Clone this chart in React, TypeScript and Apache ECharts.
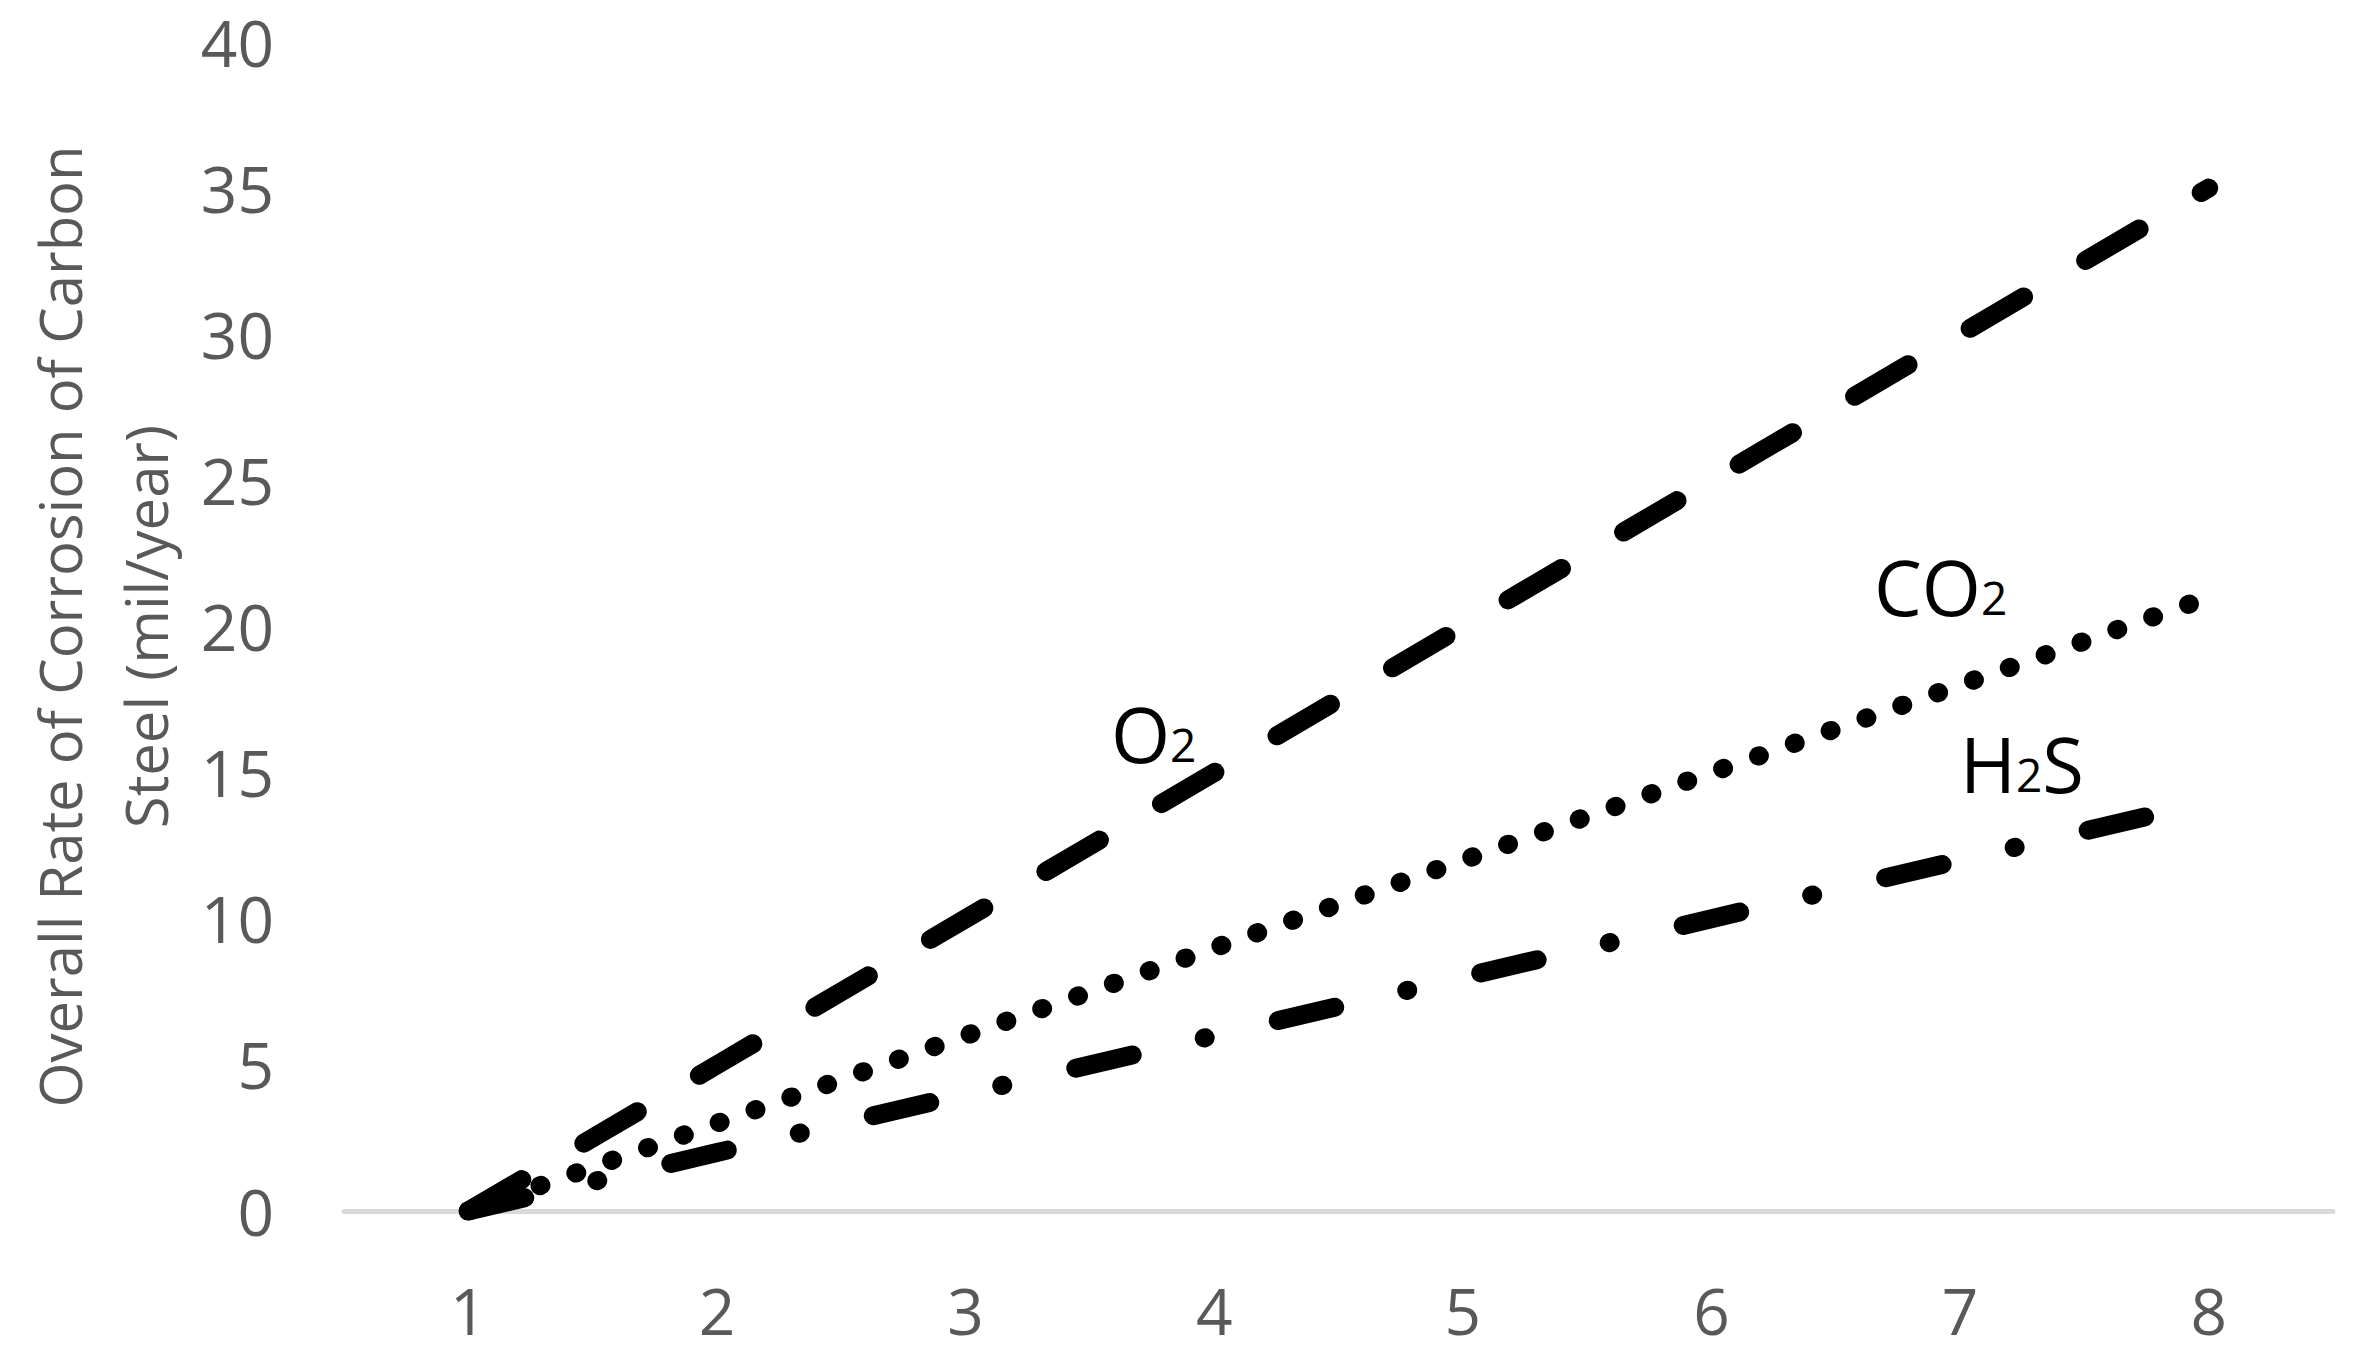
import React, { useEffect, useRef } from "react";
import * as echarts from "echarts";

const categories = ["1", "2", "3", "4", "5", "6", "7", "8"];
const o2Values = [0, 5, 10, 15, 20, 25, 30, 35];
const co2Values = [0, 3, 6, 9, 12, 15, 18, 21];
const h2sValues = [0, 2, 4, 6, 8, 10, 12, 14];
const yTicks = { min: 0, max: 40, interval: 5 };
const yTitle = "Overall Rate of Corrosion of Carbon\nSteel (mil/year)";

const FONT = "'Open Sans', 'Noto Sans', sans-serif";
const GREY = "#595959";

export default function App() {
  const ref = useRef<HTMLDivElement>(null);
  useEffect(() => {
    if (!ref.current) return;
    const chart = echarts.init(ref.current, undefined, { renderer: "svg" });
    const rich = {
      m: { fontSize: 76, fontFamily: FONT, color: "#000", lineHeight: 76, verticalAlign: "bottom" },
      s: { fontSize: 46, fontFamily: FONT, color: "#000", lineHeight: 46, verticalAlign: "bottom", padding: [0, 0, 4, 0] },
    };
    const lineBase = { color: "#000", width: 19, cap: "round", join: "round" };
    chart.setOption({
      animation: false,
      backgroundColor: "#fff",
      grid: { left: 344, right: 35, top: 42, bottom: 152 },
      xAxis: {
        type: "category",
        data: categories,
        boundaryGap: true,
        axisLine: { show: true, lineStyle: { color: "#d9d9d9", width: 5 } },
        axisTick: { show: false },
        axisLabel: { color: GREY, fontSize: 64, fontFamily: FONT, margin: 67 },
        splitLine: { show: false },
      },
      yAxis: {
        type: "value",
        min: yTicks.min,
        max: yTicks.max,
        interval: yTicks.interval,
        axisLine: { show: false },
        axisTick: { show: false },
        splitLine: { show: false },
        axisLabel: { color: GREY, fontSize: 64, fontFamily: FONT, margin: 70 },
        name: yTitle,
        nameLocation: "middle",
        nameRotate: 90,
        nameGap: 156,
        nameTextStyle: { color: GREY, fontSize: 58, fontFamily: FONT, lineHeight: 86 },
      },
      series: [
        {
          name: "O2",
          type: "line",
          data: o2Values,
          symbol: "none",
          lineStyle: { ...lineBase, type: [62, 72] },
        },
        {
          name: "CO2",
          type: "line",
          data: co2Values,
          symbol: "none",
          lineStyle: { ...lineBase, type: [1, 37] },
        },
        {
          name: "H2S",
          type: "line",
          data: h2sValues,
          symbol: "none",
          lineStyle: { ...lineBase, type: [58, 74, 1, 75] },
        },
      ],
      graphic: [
        { type: "text", x: 1111, y: 733, style: { text: "{m|O}{s|2}", rich, align: "left", verticalAlign: "middle" } },
        { type: "text", x: 1874, y: 586, style: { text: "{m|CO}{s|2}", rich, align: "left", verticalAlign: "middle" } },
        { type: "text", x: 1960, y: 763, style: { text: "{m|H}{s|2}{m|S}", rich, align: "left", verticalAlign: "middle" } },
      ],
    });
    return () => chart.dispose();
  }, []);
  return (
    <div
      ref={ref}
      style={{ position: "fixed", left: 0, top: 0, width: 2368, height: 1363, background: "#fff" }}
    />
  );
}
